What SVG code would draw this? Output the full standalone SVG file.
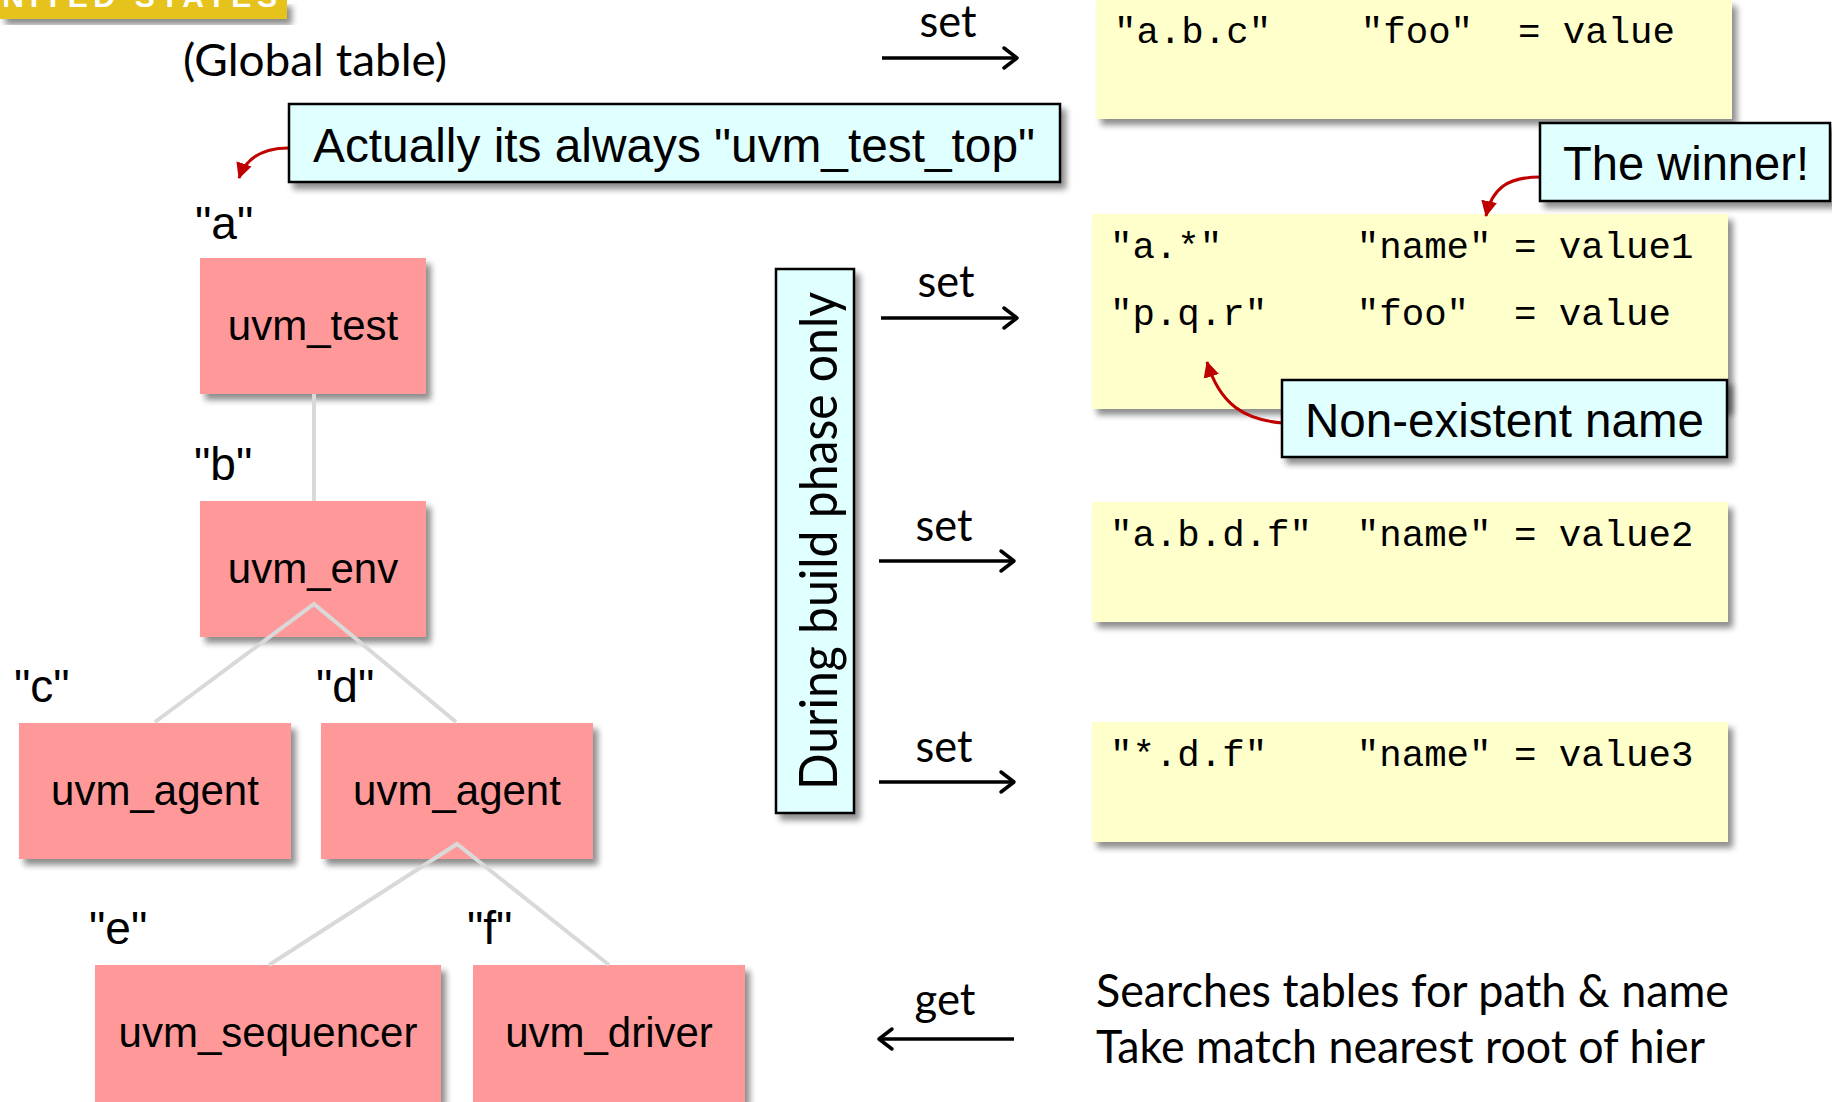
<svg xmlns="http://www.w3.org/2000/svg" width="1832" height="1102" viewBox="0 0 1832 1102">
  <defs>
    <filter id="shadow" x="-10%" y="-10%" width="130%" height="140%">
      <feGaussianBlur in="SourceAlpha" stdDeviation="3"/>
      <feOffset dx="5" dy="6" result="off"/>
      <feComponentTransfer in="off" result="soft">
        <feFuncA type="linear" slope="0.45"/>
      </feComponentTransfer>
      <feMerge>
        <feMergeNode in="soft"/>
        <feMergeNode in="SourceGraphic"/>
      </feMerge>
    </filter>
    <marker id="open" markerWidth="22" markerHeight="26" refX="17" refY="13" orient="auto" markerUnits="userSpaceOnUse">
      <path d="M4,3 L17,13 L4,23" fill="none" stroke="#000" stroke-width="3.5" stroke-linecap="round" stroke-linejoin="round"/>
    </marker>
    <marker id="redhead" markerWidth="18" markerHeight="18" refX="15" refY="9" orient="auto" markerUnits="userSpaceOnUse">
      <path d="M0,1 L16,9 L0,17 Z" fill="#C00000"/>
    </marker>
    <style>
      .node rect { fill: #FF9999; }
      .node text { font-family: "Liberation Sans", Arial, sans-serif; font-size: 42px; fill: #000; text-anchor: middle; }
      .lbl { font-family: "Liberation Sans", Arial, sans-serif; font-size: 46px; fill: #000; }
      .callout rect { fill: #E0FFFF; stroke: #000; stroke-width: 2.5; }
      .callout text { font-family: "Liberation Sans", Arial, sans-serif; font-size: 48px; fill: #000; }
      .tbl rect { fill: #FFFFCC; }
      .mono { font-family: "Liberation Mono", "Courier New", monospace; font-size: 37.4px; fill: #000; white-space: pre; }
      .cal { font-family: Lato, "Open Sans", sans-serif; fill: #000; }
      .conn { stroke: #D9D9D9; stroke-width: 4; fill: none; }
      .arr { stroke: #000; stroke-width: 3.5; fill: none; }
      .red { stroke: #C00000; stroke-width: 3; fill: none; }
    </style>
  </defs>

  <rect width="1832" height="1102" fill="#FFFFFF"/>

  <!-- header strip, partly outside the page -->
  <g id="banner">
    <rect x="0" y="0" width="287" height="19" fill="#E6C31E" filter="url(#shadow)"/>
    <text x="-25" y="7" font-family="Liberation Sans, Arial, sans-serif" font-weight="bold" font-size="30" fill="#FFFFFF" textLength="302" lengthAdjust="spacing">UNITED STATES</text>
  </g>

  <text id="global-title" class="cal" x="183" y="76" font-size="44" textLength="264" lengthAdjust="spacingAndGlyphs">(Global table)</text>

  <!-- arrow captions -->
  <g id="arrow-labels" class="cal" font-size="44" text-anchor="middle">
    <text x="948" y="37" textLength="57" lengthAdjust="spacingAndGlyphs">set</text>
    <text x="946" y="297" textLength="57" lengthAdjust="spacingAndGlyphs">set</text>
    <text x="944" y="541" textLength="57" lengthAdjust="spacingAndGlyphs">set</text>
    <text x="944" y="762" textLength="57" lengthAdjust="spacingAndGlyphs">set</text>
    <text x="945" y="1015" textLength="61" lengthAdjust="spacingAndGlyphs">get</text>
  </g>

  <!-- component tree -->
  <g id="node-test" class="node">
    <rect x="200" y="258" width="226" height="136" filter="url(#shadow)"/>
    <text x="313" y="340">uvm_test</text>
  </g>
  <g id="node-env" class="node">
    <rect x="200" y="501" width="226" height="136" filter="url(#shadow)"/>
    <text x="313" y="583">uvm_env</text>
  </g>
  <g id="node-agent-c" class="node">
    <rect x="19" y="723" width="272" height="136" filter="url(#shadow)"/>
    <text x="155" y="805">uvm_agent</text>
  </g>
  <g id="node-agent-d" class="node">
    <rect x="321" y="723" width="272" height="136" filter="url(#shadow)"/>
    <text x="457" y="805">uvm_agent</text>
  </g>
  <g id="node-sequencer" class="node">
    <rect x="95" y="965" width="346" height="137" filter="url(#shadow)"/>
    <text x="268" y="1047">uvm_sequencer</text>
  </g>
  <g id="node-driver" class="node">
    <rect x="473" y="965" width="272" height="137" filter="url(#shadow)"/>
    <text x="609" y="1047">uvm_driver</text>
  </g>

  <!-- instance names -->
  <g id="names">
    <text class="lbl" x="195" y="239">"a"</text>
    <text class="lbl" x="194" y="480">"b"</text>
    <text class="lbl" x="14" y="702">"c"</text>
    <text class="lbl" x="316" y="702">"d"</text>
    <text class="lbl" x="89" y="944">"e"</text>
    <text class="lbl" x="467" y="944">"f"</text>
  </g>

  <!-- build phase band -->
  <g id="build-phase">
    <rect x="776" y="269" width="78" height="544" fill="#E0FFFF" stroke="#000" stroke-width="2.5" filter="url(#shadow)"/>
    <text class="cal" font-size="52" text-anchor="middle" transform="translate(837,541) rotate(-90)" textLength="498" lengthAdjust="spacingAndGlyphs">During build phase only</text>
  </g>

  <!-- config tables -->
  <g id="table-1" class="tbl">
    <rect x="1096" y="0" width="636" height="119" filter="url(#shadow)"/>
    <text class="mono" x="1114" y="43" xml:space="preserve">"a.b.c"    "foo"  = value</text>
  </g>
  <g id="table-2" class="tbl">
    <rect x="1092" y="214" width="636" height="195" filter="url(#shadow)"/>
    <text class="mono" x="1110" y="258" xml:space="preserve">"a.*"      "name" = value1</text>
    <text class="mono" x="1110" y="325" xml:space="preserve">"p.q.r"    "foo"  = value</text>
  </g>
  <g id="table-3" class="tbl">
    <rect x="1092" y="502" width="636" height="120" filter="url(#shadow)"/>
    <text class="mono" x="1110" y="546" xml:space="preserve">"a.b.d.f"  "name" = value2</text>
  </g>
  <g id="table-4" class="tbl">
    <rect x="1092" y="722" width="636" height="120" filter="url(#shadow)"/>
    <text class="mono" x="1110" y="766" xml:space="preserve">"*.d.f"    "name" = value3</text>
  </g>

  <!-- tree links, set/get arrows and callout pointers, drawn over the boxes -->
  <g id="connectors">
    <line class="conn" x1="314" y1="394" x2="314" y2="501"/>
    <polyline class="conn" points="155,722 314,604 456,722"/>
    <polyline class="conn" points="269,965 457,844 609,965"/>

    <line class="arr" x1="882" y1="58" x2="1017" y2="58" marker-end="url(#open)"/>
    <line class="arr" x1="881" y1="318" x2="1017" y2="318" marker-end="url(#open)"/>
    <line class="arr" x1="879" y1="561" x2="1014" y2="561" marker-end="url(#open)"/>
    <line class="arr" x1="879" y1="782" x2="1014" y2="782" marker-end="url(#open)"/>
    <line class="arr" x1="1014" y1="1039" x2="879" y2="1039" marker-end="url(#open)"/>

    <path class="red" d="M292,148 C262,147 246,158 239,178" marker-end="url(#redhead)"/>
    <path class="red" d="M1540,177 C1508,177 1492,188 1486,216" marker-end="url(#redhead)"/>
    <path class="red" d="M1283,423 C1245,420 1220,405 1207,362" marker-end="url(#redhead)"/>
  </g>

  <!-- callouts -->
  <g id="callout-top" class="callout">
    <rect x="289" y="104" width="771" height="78" filter="url(#shadow)"/>
    <text x="313" y="162" textLength="722" lengthAdjust="spacingAndGlyphs">Actually its always "uvm_test_top"</text>
  </g>
  <g id="callout-winner" class="callout">
    <rect x="1540" y="123" width="290" height="78" filter="url(#shadow)"/>
    <text x="1563" y="180" textLength="246" lengthAdjust="spacingAndGlyphs">The winner!</text>
  </g>
  <g id="callout-nonexistent" class="callout">
    <rect x="1282" y="380" width="445" height="77" filter="url(#shadow)"/>
    <text x="1305" y="437" textLength="399" lengthAdjust="spacingAndGlyphs">Non-existent name</text>
  </g>

  <!-- lookup notes -->
  <g id="lookup-note" class="cal" font-size="46">
    <text x="1096" y="1007" textLength="633" lengthAdjust="spacingAndGlyphs">Searches tables for path &amp; name</text>
    <text x="1096" y="1063" textLength="609" lengthAdjust="spacingAndGlyphs">Take match nearest root of hier</text>
  </g>
</svg>
